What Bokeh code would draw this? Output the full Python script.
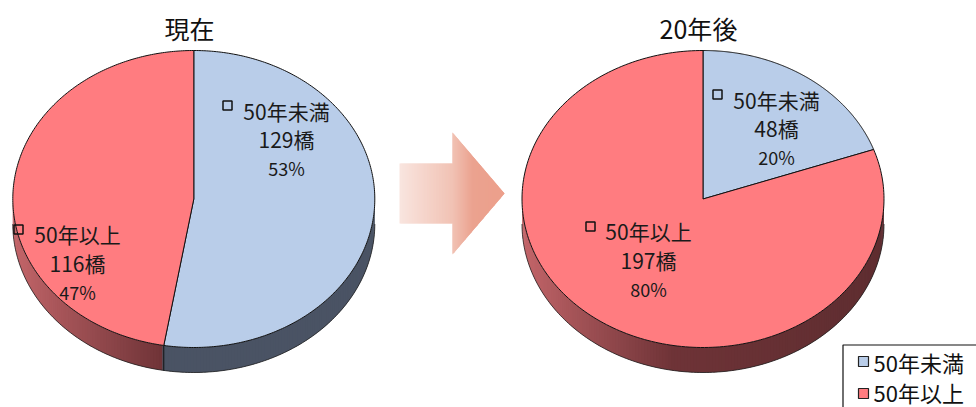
import numpy as np
from bokeh.plotting import figure
from bokeh.models import Range1d
from bokeh.core.properties import value
from bokeh.embed import file_html
from bokeh.resources import INLINE

# ---- data ----
categories = ["50年未満", "50年以上"]
now_values = [129, 116]
later_values = [48, 197]
now_pct = ["53%", "47%"]
later_pct = ["20%", "80%"]
titles = ["現在", "20年後"]
unit = "橋"

# ---- layout & style ----
FONT = "Noto Sans CJK JP"
top_colors = ["#B9CDE9", "#FF7C80"]
side_stops = [
    ([0.0, 0.42, 1.0], ["#4F5A6C", "#4A5364", "#4A5364"]),
    ([0.0, 0.12, 0.42, 1.0], ["#C4666A", "#A9565A", "#6E3337", "#5E2D30"]),
]
RX, RY, DEPTH, CY = 181, 148.5, 25, 198.5
pies = [
    dict(cx=193.3, vals=now_values, pct=now_pct, title_x=189,
         label_pos=[(286, 110, 138, 167), (77, 233, 262, 291)],
         marker=[(227, 105), (18, 229)]),
    dict(cx=702.5, vals=later_values, pct=later_pct, title_x=698,
         label_pos=[(776, 99, 127, 156), (648, 230, 259, 288)],
         marker=[(717, 94), (590, 226)]),
]


def hex2rgb(c):
    return np.array([int(c[i:i + 2], 16) for i in (1, 3, 5)], float)


def ramp(t, stops, cols):
    rgb = [np.interp(t, stops, [hex2rgb(c)[k] for c in cols]) for k in range(3)]
    return "#%02x%02x%02x" % tuple(int(round(v)) for v in rgb)


p = figure(width=976, height=407, output_backend="svg", toolbar_location=None,
           x_range=Range1d(0, 976), y_range=Range1d(407, 0),
           min_border=0, outline_line_color=None, background_fill_color="white")
p.xaxis.visible = False
p.yaxis.visible = False
p.xgrid.visible = False
p.ygrid.visible = False

# ---- arrow ----
edges = np.linspace(399, 504, 106)
a_stops, a_cols = [399, 452, 472, 504], ["#F9E5DF", "#F1C2B4", "#EBA28F", "#EC9F8B"]


def half_height(x):
    return 30.0 if x < 452 else 61.0 * (504 - x) / 52.0


axs, ays, acs = [], [], []
for x0, x1 in zip(edges[:-1], edges[1:]):
    x2 = min(x1 + 1, 504)
    h0, h2 = half_height(x0), half_height(x2)
    if x0 < 452 <= x2:
        axs.append([x0, 452, 452, x2, x2, 452, 452, x0])
        ays.append([193 - h0, 193 - h0, 132, 193 - h2, 193 + h2, 253, 193 + h0, 193 + h0])
    else:
        axs.append([x0, x2, x2, x0])
        ays.append([193 - h0, 193 - h2, 193 + h2, 193 + h0])
    acs.append(ramp((x0 + x1) / 2, a_stops, a_cols))
p.patches(axs, ays, fill_color=acs, line_color=None)

labels_x, labels_y, labels_t = [], [], []
pct_x, pct_y, pct_t = [], [], []
mk_x, mk_y = [], []

for pie in pies:
    cx, vals = pie["cx"], pie["vals"]
    bounds = np.cumsum([0] + vals) / sum(vals) * 2 * np.pi  # clockwise from 12 o'clock
    ex = lambda a: cx + RX * np.sin(a)
    ey = lambda a: CY - RY * np.cos(a)

    # side wall: each slice overlapped by the next so no seams appear
    sx, sy, sc = [], [], []
    angs = np.radians(np.arange(90, 270.01, 1.0))
    for a0, a1 in zip(angs[:-1], angs[1:]):
        mid = (a0 + a1) / 2
        idx = 0 if mid < bounds[1] else 1
        t = (ex(mid) - (cx - RX)) / (2 * RX)
        a2 = min(a1 + np.radians(1.0), np.radians(270))
        arc = np.linspace(a0, a2, 4)
        sx.append(np.r_[ex(arc), ex(arc[::-1])])
        sy.append(np.r_[ey(arc), ey(arc[::-1]) + DEPTH])
        sc.append(ramp(t, *side_stops[idx]))
    p.patches(sx, sy, fill_color=sc, line_color=None)
    lower = np.radians(np.linspace(90, 270, 181))
    p.line(ex(lower), ey(lower) + DEPTH, line_color="#222222", line_width=0.8)
    b = bounds[1]
    if np.pi / 2 < b < 3 * np.pi / 2:
        p.line([ex(b), ex(b)], [ey(b), ey(b) + DEPTH], line_color="#111111", line_width=1)

    # top face wedges
    for i in range(len(vals)):
        th = np.linspace(bounds[i], bounds[i + 1], 240)
        p.patch(np.r_[cx, ex(th)], np.r_[CY, ey(th)], fill_color=top_colors[i],
                line_color="#111111", line_width=1)

    for i, (lx, y1, y2, y3) in enumerate(pie["label_pos"]):
        labels_x += [lx, lx]
        labels_y += [y1, y2]
        labels_t += [categories[i], f"{vals[i]}{unit}"]
        pct_x.append(lx)
        pct_y.append(y3)
        pct_t.append(pie["pct"][i])
    for m in pie["marker"]:
        mk_x.append(m[0])
        mk_y.append(m[1])

p.text(labels_x, labels_y, text=labels_t, text_font=value(FONT), text_font_size="21px",
       text_align="center", text_baseline="middle", text_color="#1a1a1a")
p.text(pct_x, pct_y, text=pct_t, text_font=value(FONT), text_font_size="18px",
       text_align="center", text_baseline="middle", text_color="#1a1a1a")
p.scatter(mk_x, mk_y, marker="square", size=9, fill_color=None, line_color="#111111", line_width=1.5)

# titles
p.text([pies[0]["title_x"], pies[1]["title_x"]], [27, 27], text=titles, text_font=value(FONT),
       text_font_size="25px", text_align="center", text_baseline="middle", text_color="#111111")

# legend
p.quad(left=[842.5], right=[990], top=[344.5], bottom=[420], fill_color="white",
       line_color="#111111", line_width=1.2)
p.scatter([863, 863], [361, 393], marker="square", size=10, fill_color=top_colors,
          line_color="#222222", line_width=1.2)
p.text([873, 873], [361, 391], text=categories, text_font=value(FONT), text_font_size="22px",
       text_align="left", text_baseline="middle", text_color="#111111")

html = file_html(p, INLINE)
html = html.replace("<head>", "<head><style>html,body{margin:0;padding:0;overflow:hidden}</style>", 1)
open("out.html", "w").write(html)
